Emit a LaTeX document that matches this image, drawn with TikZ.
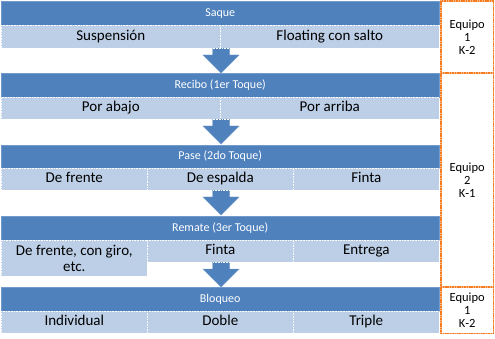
\documentclass[tikz,border=0pt]{standalone}
\usepackage{fontspec}
\setmainfont{Carlito}
\definecolor{hdrblue}{HTML}{4F81BD}
\definecolor{subblue}{HTML}{BCCFE6}
\definecolor{eqorange}{HTML}{F47B20}
\tikzset{
  hdrbox/.style={fill=hdrblue, draw=hdrblue!80!white, inner sep=0pt, anchor=north west,
    text=white, minimum width=438pt, minimum height=24pt, text height=8.5pt, text depth=2.5pt,
    font=\fontsize{12}{14}\selectfont},
  cellbase/.style={fill=subblue, draw=white, densely dotted, line width=0.6pt, inner sep=0pt,
    anchor=north west, text=black, font=\fontsize{15}{16}\selectfont},
  cellbox/.style={cellbase, text height=10pt, text depth=3pt},
  eqbox/.style={inner sep=0pt, anchor=north west, align=center, minimum width=52pt,
    font=\fontsize{12.5}{13}\selectfont},
  eqframebase/.style={draw=eqorange!55!white, line width=1.3pt},
  eqframe/.style={draw=eqorange, line width=1.3pt, dash pattern=on 1.6pt off 0.8pt},
  blockarrow/.style={fill=hdrblue, draw=hdrblue!80!white, line width=0.4pt}
}
\begin{document}
\begin{tikzpicture}[x=1pt,y=-1pt]
\fill[white] (0,0) rectangle (495,339);
\useasboundingbox (0,0) rectangle (495,339);
% arrows
\foreach \y in {48,119,190,262}{
  \fill[blockarrow] (212.5,\y) -- (229.5,\y) -- (229.5,\y+7) -- (239,\y+7) -- (221,\y+25)
    -- (203,\y+7) -- (212.5,\y+7) -- cycle;
}
% row 1
\node[hdrbox] (h1) at (1,1) {Saque};
\node[cellbox, minimum width=219pt, minimum height=23pt] (c11) at (1,25) {Suspensión};
\node[cellbox, minimum width=219pt, minimum height=23pt] (c12) at (220,25) {Floating con salto};
% row 2
\node[hdrbox] (h2) at (1,73) {Recibo (1er Toque)};
\node[cellbox, minimum width=219pt, minimum height=22pt] (c21) at (1,97) {Por abajo};
\node[cellbox, minimum width=219pt, minimum height=22pt] (c22) at (220,97) {Por arriba};
% row 3
\node[hdrbox, minimum height=23pt] (h3) at (1,145) {Pase (2do Toque)};
\node[cellbox, minimum width=146pt, minimum height=22pt] (c31) at (1,168) {De frente};
\node[cellbox, minimum width=146pt, minimum height=22pt] (c32) at (147,168) {De espalda};
\node[cellbox, minimum width=146pt, minimum height=22pt] (c33) at (293,168) {Finta};
% row 4
\node[hdrbox] (h4) at (1,216) {Remate (3er Toque)};
\node[cellbase, align=center, minimum width=146pt, minimum height=36pt] (c41) at (1,240) {De frente, con giro,\\etc.};
\node[cellbox, minimum width=146pt, minimum height=22pt] (c42) at (147,240) {Finta};
\node[cellbox, minimum width=146pt, minimum height=22pt] (c43) at (293,240) {Entrega};
% row 5
\node[hdrbox] (h5) at (1,287) {Bloqueo};
\node[cellbox, minimum width=146pt, minimum height=22pt] (c51) at (1,311) {Individual};
\node[cellbox, minimum width=146pt, minimum height=22pt] (c52) at (147,311) {Doble};
\node[cellbox, minimum width=146pt, minimum height=22pt] (c53) at (293,311) {Triple};
% team boxes
\node[eqbox, minimum height=72pt] (e1) at (441,1) {Equipo\\1\\K-2};
\node[eqbox, minimum height=214pt] (e2) at (441,73) {Equipo\\2\\K-1};
\node[eqbox, minimum height=46pt] (e3) at (441,287) {Equipo\\1\\K-2};
\foreach \e in {e1,e2,e3}{
  \draw[eqframebase] (\e.north west) rectangle (\e.south east);
  \draw[eqframe] (\e.north west) rectangle (\e.south east);
}
\end{tikzpicture}
\end{document}
